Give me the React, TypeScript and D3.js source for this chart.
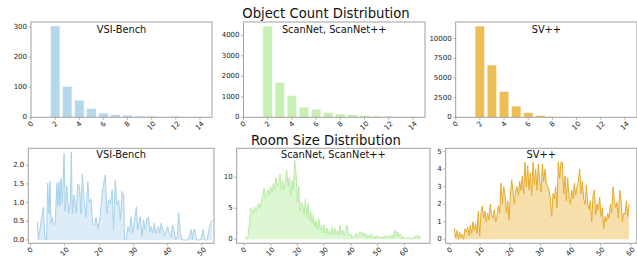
import React from 'react'
import * as d3 from 'd3'

// object count histograms (count of objects per bin 2..14)
const countBins = [2, 3, 4, 5, 6, 7, 8, 9, 10, 11, 12, 13, 14]
const countTicks = [0, 2, 4, 6, 8, 10, 12, 14]
const vsiCounts = [303, 103, 57, 30, 14, 9, 7, 4, 4, 1, 4, 0, 2]
const scanCounts = [4450, 1710, 1070, 500, 400, 230, 160, 130, 100, 60, 60, 50, 20]
const svCounts = [11590, 6640, 3300, 1430, 590, 250, 120, 50, 30, 10, 5, 5, 5]

// room size distributions
const vsiRoomX = [
  2.0, 2.3, 2.8, 3.3, 3.8, 4.1, 4.5, 4.7, 5.0, 5.4, 5.7, 6.0, 6.4, 6.7, 7.2, 7.7, 8.0, 8.3, 8.6, 8.9,
  9.3, 9.8, 10.1, 10.6, 11.1, 11.6, 11.9, 12.2, 12.7, 13.3, 13.8, 14.3, 14.7, 15.1, 15.7, 16.2, 16.7, 17.1, 17.6, 18.1,
  18.6, 19.1, 19.7, 20.3, 20.8, 21.3, 21.8, 22.3, 22.8, 23.3, 23.8, 24.2, 24.7, 25.2, 25.7, 26.2, 26.7, 27.2, 27.4, 27.9,
  28.4, 28.9, 29.3, 29.8, 30.3, 30.9, 31.2, 31.6, 32.0, 32.5, 33.0, 33.5, 34.0, 34.4, 34.8, 35.2, 35.6, 36.1, 36.5, 36.9,
  37.3, 37.7, 38.1, 38.6, 39.1, 39.5, 40.0, 40.5, 41.0, 41.4, 41.8, 42.3, 42.8, 43.2, 43.7, 44.2, 45.0, 46.0, 46.9, 47.2,
  47.6, 47.9, 48.4, 49.6, 50.4, 50.7, 51.5, 52.3, 53.0
]
const vsiRoomY = [
  0.49, 0.02, 0.3, 0.65, 0.89, 0.14, 0.0, 0.0, 1.52, 0.7, 1.56, 0.45, 0.6, 0.4, 0.45, 1.52, 0.93, 1.56, 0.9, 1.65,
  1.0, 2.32, 0.76, 1.45, 0.7, 1.0, 2.36, 0.7, 1.2, 0.73, 1.5, 1.45, 0.7, 1.76, 1.0, 0.6, 1.56, 1.0, 1.1, 0.44,
  0.4, 0.6, 0.3, 0.62, 1.16, 1.5, 1.74, 0.7, 1.07, 0.98, 1.34, 0.27, 1.6, 0.94, 1.07, 0.53, 1.3, 1.2, 0.0, 0.0,
  0.35, 0.22, 0.62, 0.18, 0.53, 0.89, 0.27, 0.45, 0.62, 0.09, 0.53, 0.27, 0.58, 0.62, 0.22, 0.36, 0.18, 0.45, 0.18, 0.27,
  0.36, 0.18, 0.45, 0.27, 0.09, 0.22, 0.36, 0.18, 0.09, 0.4, 0.27, 0.0, 0.09, 0.73, 0.18, 0.0, 0.0, 0.0, 0.28, 0.0,
  0.28, 0.28, 0.0, 0.0, 0.28, 0.0, 0.0, 0.4, 0.53
]

const scanRoomStart = 0.5
const scanRoomStep = 0.5
const scanRoom = [
  0.5, 0.0, 0.3, 2.5, 5.0, 4.8, 4.0, 5.2, 4.5, 5.3, 5.8, 5.0, 6.0, 7.0, 8.3, 6.5, 7.5, 8.0, 7.0, 8.5,
  7.5, 9.0, 8.0, 10.0, 8.5, 9.0, 10.5, 8.0, 9.5, 8.0, 9.0, 11.2, 8.5, 10.0, 7.0, 9.5, 8.0, 12.8, 10.8, 6.0,
  8.5, 4.5, 6.0, 5.5, 4.0, 6.5, 3.5, 5.8, 3.0, 4.5, 2.5, 4.0, 2.0, 3.0, 1.5, 3.3, 1.5, 2.2, 1.0, 2.3,
  1.0, 1.8, 0.8, 1.5, 0.7, 2.0, 0.8, 1.8, 0.9, 1.5, 0.6, 2.3, 0.8, 1.5, 0.6, 1.2, 2.3, 1.0, 0.5, 0.8,
  0.2, 0.6, 0.4, 1.0, 0.4, 0.8, 1.2, 0.6, 1.1, 0.4, 1.0, 0.3, 0.7, 0.2, 0.9, 0.3, 0.5, 0.1, 0.6, 0.2,
  0.5, 0.1, 0.4, 0.1, 0.6, 0.2, 0.6, 0.3, 0.6, 0.2, 0.7, 0.3, 1.5, 0.5, 1.2, 0.4, 0.8, 0.1, 0.4, 0.1,
  0.3, 0.1, 0.3, 0.1, 0.2, 0.0, 0.4, 0.3, 0.7, 0.2, 0.6, 0.1
]

const svRoomStart = 1.46
const svRoomStep = 0.4425
const svRoom = [
  0.65, 0.1, 0.5, 0.0, 0.4, 0.1, 0.3, 0.0, 0.6, 0.4, 0.7, 0.2, 0.8, 0.3, 1.0, 0.5, 0.9, 0.3, 1.6, 0.2,
  1.5, 1.9, 1.2, 1.6, 1.0, 1.5, 1.1, 2.0, 1.4, 1.2, 1.7, 1.0, 1.3, 1.9, 1.5, 3.2, 2.0, 3.0, 2.6, 1.5,
  2.2, 1.1, 2.5, 3.4, 2.7, 2.0, 2.8, 3.0, 2.5, 3.3, 2.8, 3.6, 2.6, 4.4, 3.0, 4.2, 2.8, 3.8, 2.5, 4.4,
  3.1, 4.0, 2.8, 4.3, 3.3, 2.7, 4.3, 3.3, 4.0, 3.2, 3.0, 2.8, 2.3, 1.3, 2.6, 2.3, 3.0, 1.8, 4.4, 3.5,
  4.4, 4.4, 2.6, 3.6, 2.2, 3.5, 2.4, 2.0, 2.8, 2.3, 3.2, 2.5, 3.0, 3.3, 4.0, 2.6, 3.3, 2.3, 2.0, 3.1,
  2.0, 1.7, 2.2, 1.0, 2.5, 2.8, 1.4, 2.0, 1.7, 2.4, 1.3, 1.8, 0.6, 1.3, 1.0, 1.5, 1.2, 2.0, 1.5, 3.0,
  2.2, 1.8, 2.1, 1.2, 2.8, 2.2, 1.0, 1.5, 1.4, 2.2, 1.3, 2.0
]

const font = 'DejaVu Sans, sans-serif'
const frameColor = '#a0a0a0'
const tickFont = 7

const XTickLabels = ({ ticks, x, y0 }: { ticks: number[]; x: d3.ScaleLinear<number, number>; y0: number }) => (
  <g>
    {ticks.map(t => {
      const label = String(t)
      const w = label.length * 0.636 * tickFont
      const off = (w + tickFont) * 0.707 / 2
      return (
        <g key={t}>
          <line x1={x(t)} x2={x(t)} y1={y0} y2={y0 + 2.5} stroke={frameColor} strokeWidth={0.8} />
          <text
            transform={`translate(${x(t)},${y0 + 3 + off}) rotate(-45)`}
            textAnchor="middle"
            dominantBaseline="central"
            fontSize={tickFont}
            fill="#222"
          >
            {label}
          </text>
        </g>
      )
    })}
  </g>
)

const YTickLabels = ({ ticks, y, x0, fmt }: { ticks: number[]; y: d3.ScaleLinear<number, number>; x0: number; fmt: (v: number) => string }) => (
  <g>
    {ticks.map(t => (
      <g key={t}>
        <line x1={x0 - 2.5} x2={x0} y1={y(t)} y2={y(t)} stroke={frameColor} strokeWidth={0.8} />
        <text x={x0 - 4} y={y(t)} textAnchor="end" dominantBaseline="central" fontSize={tickFont} fill="#222">
          {fmt(t)}
        </text>
      </g>
    ))}
  </g>
)

interface BarProps {
  left: number; right: number; top: number; bottom: number
  yMax: number; yTicks: number[]; values: number[]; color: string; title: string
}

const BarPanel = ({ left, right, top, bottom, yMax, yTicks, values, color, title }: BarProps) => {
  const x = d3.scaleLinear().domain([0, 15]).range([left, right])
  const y = d3.scaleLinear().domain([0, yMax]).range([bottom, top])
  return (
    <g>
      {countBins.map((c, i) => (
        <rect
          key={c}
          x={x(c - 0.4)}
          y={y(values[i])}
          width={x(c + 0.4) - x(c - 0.4)}
          height={y(0) - y(values[i])}
          fill={color}
          stroke="#fff"
          strokeWidth={0.6}
        />
      ))}
      <rect x={left} y={top} width={right - left} height={bottom - top} fill="none" stroke={frameColor} strokeWidth={1} />
      <text x={(left + right) / 2} y={top + 10.6} textAnchor="middle" fontSize={9.8} fill="#111">{title}</text>
      <YTickLabels ticks={yTicks} y={y} x0={left} fmt={d3.format('d')} />
      <XTickLabels ticks={countTicks} x={x} y0={bottom} />
    </g>
  )
}

interface LineProps {
  left: number; right: number; top: number; bottom: number
  xDomain: [number, number]; yDomain: [number, number]
  xTicks: number[]; yTicks: number[]; fmt: (v: number) => string
  xs: number[]; ys: number[]; line: string; fill: string; title: string
}

const LinePanel = ({ left, right, top, bottom, xDomain, yDomain, xTicks, yTicks, fmt, xs, ys, line, fill, title }: LineProps) => {
  const x = d3.scaleLinear().domain(xDomain).range([left, right])
  const y = d3.scaleLinear().domain(yDomain).range([bottom, top])
  const idx = d3.range(xs.length)
  const area = d3.area<number>().x(i => x(xs[i])).y0(y(0)).y1(i => y(ys[i]))
  const path = d3.line<number>().x(i => x(xs[i])).y(i => y(ys[i]))
  return (
    <g>
      <path d={area(idx) || ''} fill={fill} />
      <path d={path(idx) || ''} fill="none" stroke={line} strokeWidth={1} />
      <rect x={left} y={top} width={right - left} height={bottom - top} fill="none" stroke={frameColor} strokeWidth={1} />
      <text x={(left + right) / 2} y={top + 10} textAnchor="middle" fontSize={9.8} fill="#111">{title}</text>
      <YTickLabels ticks={yTicks} y={y} x0={left} fmt={fmt} />
      <XTickLabels ticks={xTicks} x={x} y0={bottom} />
    </g>
  )
}

export default function App() {
  const scanX = scanRoom.map((_, i) => scanRoomStart + i * scanRoomStep)
  const svX = svRoom.map((_, i) => svRoomStart + i * svRoomStep)
  return (
    <svg width={637} height={258} style={{ position: 'absolute', left: 0, top: 0, fontFamily: font }}>
      <rect width={637} height={258} fill="#fff" />
      <text x={326} y={17.5} textAnchor="middle" fontSize={13.2} fill="#111">Object Count Distribution</text>
      <text x={326} y={145} textAnchor="middle" fontSize={13.2} fill="#111">Room Size Distribution</text>

      <BarPanel left={31} right={212} top={22} bottom={117.3} yMax={316} yTicks={[0, 100, 200, 300]}
        values={vsiCounts} color="#b4d7ec" title="VSI-Bench" />
      <BarPanel left={243.5} right={425} top={22} bottom={117.3} yMax={4650} yTicks={[0, 1000, 2000, 3000, 4000]}
        values={scanCounts} color="#c6f0b4" title="ScanNet, ScanNet++" />
      <BarPanel left={455.7} right={637} top={22} bottom={117.3} yMax={12100} yTicks={[0, 2500, 5000, 7500, 10000]}
        values={svCounts} color="#edbe55" title="SV++" />

      <LinePanel left={28.3} right={214} top={148.3} bottom={243.3} xDomain={[-0.64, 53.5]} yDomain={[-0.09, 2.455]}
        xTicks={[0, 10, 20, 30, 40, 50]} yTicks={[0, 0.5, 1, 1.5, 2]} fmt={d3.format('.1f')}
        xs={vsiRoomX} ys={vsiRoomY} line="#a8d1ec" fill="#dcedf8" title="VSI-Bench" />
      <LinePanel left={236.7} right={430} top={148.3} bottom={243.3} xDomain={[-2.7, 69.6]} yDomain={[-0.65, 14.7]}
        xTicks={[0, 10, 20, 30, 40, 50, 60]} yTicks={[0, 5, 10]} fmt={d3.format('d')}
        xs={scanX} ys={scanRoom} line="#b8eca4" fill="#dcf7d2" title="ScanNet, ScanNet++" />
      <LinePanel left={445.7} right={636.8} top={148.3} bottom={243.3} xDomain={[-1.4, 62.0]} yDomain={[-0.23, 5.19]}
        xTicks={[0, 10, 20, 30, 40, 50, 60]} yTicks={[0, 1, 2, 3, 4, 5]} fmt={d3.format('d')}
        xs={svX} ys={svRoom} line="#e8ab2c" fill="#f6dfab" title="SV++" />
    </svg>
  )
}
